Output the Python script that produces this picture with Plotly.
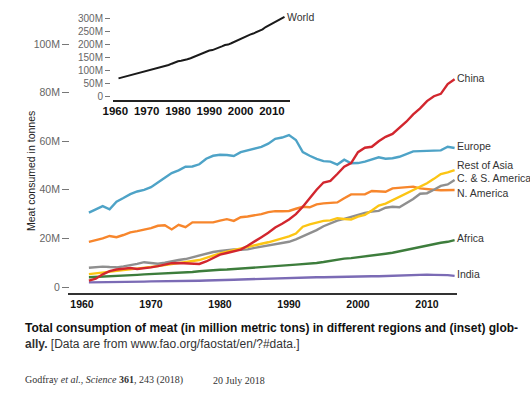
import plotly.graph_objects as go

years = list(range(1961, 2015))

europe = [30.6, 32.0, 33.3, 32.0, 35.1, 36.6, 38.2, 39.3, 40.0, 41.1,
          43.2, 45.0, 46.9, 48.0, 49.5, 49.6, 50.5, 52.8, 54.0, 54.4,
          54.3, 53.9, 55.5, 56.3, 57.0, 57.7, 59.0, 61.0, 61.5, 62.5,
          60.5, 55.5, 54.0, 52.7, 51.8, 51.6, 50.4, 52.4, 50.9, 51.0,
          51.6, 52.5, 53.4, 52.8, 53.0, 53.6, 54.8, 55.8, 55.9, 56.1,
          56.0, 56.2, 57.7, 57.2]
china = [2.6, 3.4, 5.2, 6.5, 7.2, 7.6, 7.8, 7.4, 7.6, 8.1,
         8.6, 9.2, 9.8, 9.9, 9.8, 9.8, 9.5, 10.5, 12.0, 13.3,
         14.0, 14.6, 15.4, 17.0, 18.9, 20.5, 22.3, 24.5, 26.0, 27.8,
         30.0, 33.0, 36.5, 40.0, 43.0, 43.7, 46.5, 49.5, 51.0, 55.5,
         57.3, 57.7, 60.0, 61.8, 63.0, 65.5, 68.0, 71.0, 73.5, 76.5,
         78.5, 79.5, 83.5, 85.5]
rest_of_asia = [5.3, 5.6, 6.1, 6.4, 6.7, 6.9, 7.2, 7.6, 8.0, 8.3,
                8.6, 9.0, 9.4, 9.8, 10.3, 10.7, 11.1, 12.0, 13.0, 13.8,
                14.5, 15.2, 15.8, 16.7, 17.1, 17.8, 18.4, 19.1, 19.8, 20.8,
                22.0, 24.8, 25.8, 26.4, 27.2, 27.4, 28.3, 28.0, 27.8, 29.0,
                29.7, 31.5, 33.5, 34.3, 35.7, 37.2, 38.6, 39.9, 41.3, 42.7,
                44.5, 46.5, 47.2, 48.1]
cs_america = [7.9, 8.1, 8.4, 8.2, 8.1, 8.5, 8.9, 9.5, 10.2, 10.0,
              9.6, 10.0, 10.7, 11.1, 11.5, 12.2, 13.0, 13.8, 14.4, 14.8,
              15.3, 15.5, 15.3, 15.5, 16.1, 16.6, 17.3, 17.7, 18.2, 18.6,
              19.6, 20.8, 22.0, 23.4, 25.0, 26.3, 27.3, 28.0, 28.9, 29.9,
              30.5, 31.0, 31.3, 32.6, 33.0, 32.8, 34.5, 36.2, 38.4, 38.6,
              40.0, 41.6, 42.2, 44.0]
n_america = [18.6, 19.2, 20.0, 21.0, 20.5, 21.4, 22.5, 23.0, 23.5, 24.2,
             25.2, 25.4, 23.7, 25.6, 24.6, 26.6, 26.6, 26.5, 26.6, 27.3,
             27.9, 27.2, 28.7, 29.0, 29.4, 30.0, 30.8, 31.2, 31.2, 31.3,
             32.2, 33.0, 32.8, 34.0, 34.4, 34.6, 34.8, 36.5, 38.1, 38.1,
             38.1, 39.5, 39.4, 39.2, 40.6, 40.8, 41.0, 41.3, 40.6, 40.2,
             40.0, 39.8, 39.9, 39.9]
africa = [4.0, 4.1, 4.2, 4.4, 4.5, 4.6, 4.8, 5.0, 5.2, 5.3,
          5.4, 5.6, 5.7, 5.9, 6.0, 6.2, 6.5, 6.8, 7.0, 7.1,
          7.2, 7.4, 7.5, 7.6, 7.8, 7.9, 8.1, 8.4, 8.7, 9.0,
          9.2, 9.4, 9.4, 9.9, 10.3, 10.8, 11.3, 11.7, 11.9, 12.2,
          12.5, 12.9, 13.3, 13.7, 14.1, 14.7, 15.4, 16.0, 16.7, 17.0,
          17.6, 18.2, 18.6, 19.3]
india = [1.9, 1.9, 2.0, 2.0, 2.0, 2.1, 2.1, 2.2, 2.2, 2.3,
         2.3, 2.4, 2.4, 2.5, 2.5, 2.6, 2.6, 2.7, 2.7, 2.8,
         2.9, 3.0, 3.1, 3.2, 3.3, 3.4, 3.5, 3.6, 3.6, 3.7,
         3.8, 3.8, 3.9, 4.0, 4.0, 4.1, 4.1, 4.2, 4.2, 4.3,
         4.3, 4.4, 4.4, 4.5, 4.5, 4.6, 4.8, 5.0, 5.2, 5.1,
         5.0, 5.0, 4.9, 4.6]
world = [70, 73, 77, 79, 83, 87, 90, 93, 95, 98,
         102, 106, 107, 111, 114, 118, 121, 126, 131, 135,
         137, 139, 143, 147, 152, 157, 162, 168, 171, 176,
         178, 182, 186, 192, 197, 199, 204, 210, 214, 222,
         225, 231, 237, 241, 246, 252, 257, 266, 272, 279,
         285, 291, 299, 305]

main_tick_vals = [0, 20, 40, 60, 80, 100]
main_tick_text = ["0", "20M", "40M", "60M", "80M", "100M"]
inset_tick_vals = [0, 50, 100, 150, 200, 250, 300]
inset_tick_text = ["0", "50M", "100M", "150M", "200M", "250M", "300M"]
x_tick_vals = [1960, 1970, 1980, 1990, 2000, 2010]

series = [
    ("Europe", europe, "#4ea3c7", 2),
    ("N. America", n_america, "#f7862c", -3),
    ("C. & S. America", cs_america, "#8f8f8f", 2),
    ("Rest of Asia", rest_of_asia, "#fcc514", 5),
    ("Africa", africa, "#3d7d3c", 2),
    ("India", india, "#7b6bb5", 2),
    ("China", china, "#d2262e", 1),
]

W, H = 530, 395
def px_x(p): return p / W
def px_y(p): return 1 - p / H

LAB = "Liberation Sans, Arial, sans-serif"
SANS = "Liberation Sans, Arial, sans-serif"
SERIF = "Liberation Serif, DejaVu Serif, serif"

fig = go.Figure()
for name, vals, color, _ in series:
    fig.add_trace(go.Scatter(x=years, y=vals, mode="lines", name=name,
                             line=dict(color=color, width=2.4), xaxis="x", yaxis="y"))
fig.add_trace(go.Scatter(x=years, y=world, mode="lines", name="World",
                         line=dict(color="#1a1a1a", width=2), xaxis="x2", yaxis="y2"))

annotations = []
for name, vals, color, ysh in series:
    annotations.append(dict(x=years[-1], y=vals[-1], xref="x", yref="y", text=name,
                            showarrow=False, xanchor="left", yanchor="middle",
                            xshift=2, yshift=ysh, borderpad=0, borderwidth=0,
                            font=dict(family=LAB, size=10.5, color="#333")))
annotations.append(dict(x=years[-1], y=world[-1], xref="x2", yref="y2", text="World",
                        showarrow=False, xanchor="left", yanchor="middle", xshift=2,
                        borderpad=0, borderwidth=0,
                        font=dict(family=LAB, size=10.5, color="#333")))
annotations.append(dict(x=px_x(31), y=px_y(171), xref="paper", yref="paper",
                        text="Meat consumed in tonnes", textangle=-90, showarrow=False,
                        xanchor="center", yanchor="middle",
                        font=dict(family=LAB, size=10.5, color="#222")))
annotations.append(dict(x=px_x(24), y=px_y(328), xref="paper", yref="paper",
                        text="<b>Total consumption of meat (in million metric tons) in different regions and (inset) glob-</b>",
                        showarrow=False, xanchor="left", yanchor="middle", borderpad=0,
                        font=dict(family=SANS, size=12, color="#111")))
annotations.append(dict(x=px_x(24), y=px_y(344), xref="paper", yref="paper",
                        text="<b>ally.</b> [Data are from www.fao.org/faostat/en/?#data.]",
                        showarrow=False, xanchor="left", yanchor="middle", borderpad=0,
                        font=dict(family=SANS, size=12, color="#333")))
annotations.append(dict(x=px_x(24), y=px_y(380), xref="paper", yref="paper",
                        text="Godfray <i>et al.</i>, <i>Science</i> <b>361</b>, 243 (2018)",
                        showarrow=False, xanchor="left", yanchor="middle", borderpad=0,
                        font=dict(family=SERIF, size=10, color="#333")))
annotations.append(dict(x=px_x(212), y=px_y(380), xref="paper", yref="paper",
                        text="20 July 2018",
                        showarrow=False, xanchor="left", yanchor="middle", borderpad=0,
                        font=dict(family=SERIF, size=10, color="#333")))

fig.update_layout(
    width=W, height=H,
    margin=dict(l=0, r=0, t=0, b=0, autoexpand=False),
    paper_bgcolor="white", plot_bgcolor="rgba(0,0,0,0)",
    showlegend=False,
    xaxis=dict(domain=[px_x(68), px_x(457)], range=[1960 - 14 / 6.9, 1960 + 375 / 6.9],
               anchor="y", showgrid=False, zeroline=False, automargin=False,
               showline=True, linecolor="#333", linewidth=2,
               tickvals=x_tick_vals, ticks="",
               tickfont=dict(family=SANS, size=10.5, color="#111", weight="bold")),
    yaxis=dict(domain=[px_y(293), px_y(10)], range=[-6 / 2.43, 283 / 2.43 - 6 / 2.43],
               anchor="free", position=px_x(69), showgrid=False, zeroline=False,
               automargin=False,
               showline=False, tickvals=main_tick_vals, ticktext=main_tick_text,
               ticks="outside", ticklen=7, tickcolor="#777", tickwidth=1,
               tickfont=dict(family=SANS, size=10.5, color="#666")),
    xaxis2=dict(domain=[px_x(113), px_x(290)],
                range=[1961 - 5.5 / 3.132, 1961 + 171.5 / 3.132],
                anchor="y2", showgrid=False, zeroline=False, automargin=False,
                showline=True, linecolor="#222", linewidth=1.5,
                tickvals=x_tick_vals, ticks="",
                tickfont=dict(family=SANS, size=11.5, color="#111", weight="bold")),
    yaxis2=dict(domain=[px_y(99.5), px_y(10)],
                range=[-2.8 / 0.262, 89.5 / 0.262 - 2.8 / 0.262],
                anchor="free", position=px_x(110), showgrid=False, zeroline=False,
                automargin=False,
                showline=False, tickvals=inset_tick_vals, ticktext=inset_tick_text,
                ticks="outside", ticklen=5, tickcolor="#777", tickwidth=1,
                tickfont=dict(family=SANS, size=10, color="#666")),
    annotations=annotations,
)

fig.write_html("out.html", config={"displayModeBar": False},
               post_script="document.body.style.margin='0px';")
